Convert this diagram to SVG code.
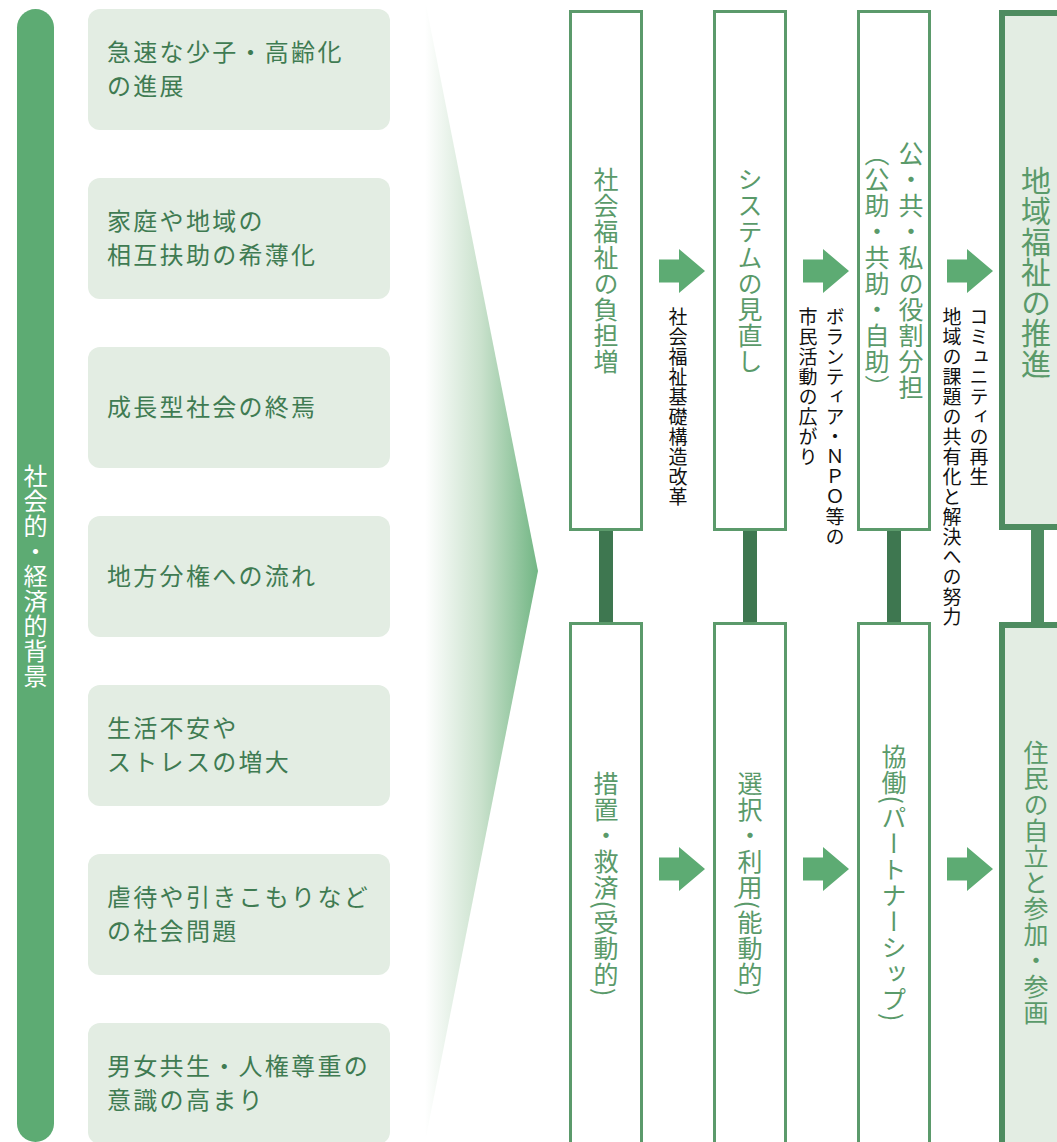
<svg xmlns="http://www.w3.org/2000/svg" width="1057" height="1142" viewBox="0 0 1057 1142">
<defs>
<linearGradient id="fun" gradientUnits="userSpaceOnUse" x1="425" y1="0" x2="538" y2="0">
<stop offset="0" stop-color="#ffffff"/>
<stop offset="0.5" stop-color="#c9e1cc"/>
<stop offset="1" stop-color="#72b684"/>
</linearGradient>
<path id="arr" d="M0 -11.5 h20 v-10.5 l26 22 l-26 22 v-10.5 h-20 z" fill="#5dab73"/>
</defs>
<style>
text{font-family:"Noto Sans CJK JP","Noto Sans CJK SC",sans-serif;}
.lb{fill:#e3ede3;}
.lt{fill:#3f7b52;font-size:24px;letter-spacing:2.3px;}
.v{writing-mode:vertical-rl;text-anchor:middle;}
.gt{fill:#5a9a6a;font-size:25px;letter-spacing:1px;}
.bx{fill:#fff;stroke:#5b9a6b;stroke-width:3;}
.bx4{fill:#e3ede3;stroke:#4e8c60;stroke-width:6;}
.st{fill:#3e7750;}
.sm{fill:#111;font-size:19px;letter-spacing:1px;writing-mode:vertical-rl;}
</style>
<rect width="1057" height="1142" fill="#fff"/>
<g id="funnel"><polygon points="425,0 538,571 425,1142" fill="url(#fun)"/></g>
<g id="sidebar">
<rect x="17" y="9" width="37" height="1133" rx="18.5" fill="#5dab73"/>
<text class="v" x="35.5" y="576" style="fill:#fff;font-size:24px;letter-spacing:1px;">社会的・経済的背景</text>
</g>
<g id="bg1"><rect class="lb" x="88" y="9" width="302" height="121" rx="12"/><text class="lt" x="107" y="61">急速な少子・高齢化</text><text class="lt" x="107" y="95">の進展</text></g>
<g id="bg2"><rect class="lb" x="88" y="178" width="302" height="121" rx="12"/><text class="lt" x="107" y="230">家庭や地域の</text><text class="lt" x="107" y="264">相互扶助の希薄化</text></g>
<g id="bg3"><rect class="lb" x="88" y="347" width="302" height="121" rx="12"/><text class="lt" x="107" y="416">成長型社会の終焉</text></g>
<g id="bg4"><rect class="lb" x="88" y="516" width="302" height="121" rx="12"/><text class="lt" x="107" y="585">地方分権への流れ</text></g>
<g id="bg5"><rect class="lb" x="88" y="685" width="302" height="121" rx="12"/><text class="lt" x="107" y="737">生活不安や</text><text class="lt" x="107" y="771">ストレスの増大</text></g>
<g id="bg6"><rect class="lb" x="88" y="854" width="302" height="121" rx="12"/><text class="lt" x="107" y="906">虐待や引きこもりなど</text><text class="lt" x="107" y="940">の社会問題</text></g>
<g id="bg7"><rect class="lb" x="88" y="1023" width="302" height="121" rx="12"/><text class="lt" x="107" y="1075">男女共生・人権尊重の</text><text class="lt" x="107" y="1109">意識の高まり</text></g>
<g id="connectors">
<rect class="st" x="599" y="530" width="14" height="93"/>
<rect class="st" x="743" y="530" width="14" height="93"/>
<rect class="st" x="887" y="530" width="14" height="93"/>
<rect x="1031" y="528" width="13" height="96" fill="#4e8c61"/>
<use href="#arr" x="659" y="271"/>
<use href="#arr" x="803" y="271"/>
<use href="#arr" x="947" y="271"/>
<use href="#arr" x="659" y="869"/>
<use href="#arr" x="803" y="869"/>
<use href="#arr" x="947" y="869"/>
<text class="sm" x="678" y="307">社会福祉基礎構造改革</text>
<text class="sm" x="835" y="307">ボランティア・ＮＰＯ等の</text>
<text class="sm" x="808" y="307">市民活動の広がり</text>
<text class="sm" x="979" y="307">コミュニティの再生</text>
<text class="sm" x="952" y="307">地域の課題の共有化と解決への努力</text>
</g>
<g id="t1"><rect class="bx" x="570.5" y="11.5" width="71" height="518"/><text class="v gt" x="606" y="271">社会福祉の負担増</text></g>
<g id="t2"><rect class="bx" x="714.5" y="11.5" width="71" height="518"/><text class="v gt" x="750" y="271">システムの見直し</text></g>
<g id="t3"><rect class="bx" x="858.5" y="11.5" width="71" height="518"/><text class="v gt" x="911" y="271">公・共・私の役割分担</text><text class="v gt" x="877" y="271">（公助・共助・自助）</text></g>
<g id="t4"><rect class="bx4" x="1002" y="13" width="80" height="514"/><text class="v gt" x="1036" y="272" style="font-size:30px;letter-spacing:0.5px;">地域福祉の推進</text></g>
<g id="b1"><rect class="bx" x="570.5" y="623.5" width="71" height="540"/><text class="v gt" x="606" y="884">措置・救済(受動的)</text></g>
<g id="b2"><rect class="bx" x="714.5" y="623.5" width="71" height="540"/><text class="v gt" x="750" y="884">選択・利用(能動的)</text></g>
<g id="b3"><rect class="bx" x="858.5" y="623.5" width="71" height="540"/><text class="v gt" x="894" y="883">協働(パートナーシップ)</text></g>
<g id="b4"><rect class="bx4" x="1002" y="625" width="80" height="540"/><text class="v gt" x="1036" y="883">住民の自立と参加・参画</text></g>
</svg>
